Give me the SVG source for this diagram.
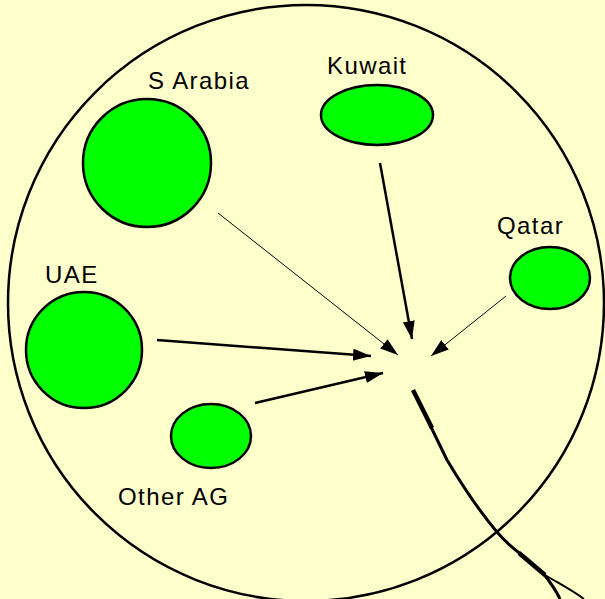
<svg xmlns="http://www.w3.org/2000/svg" width="605" height="599" viewBox="0 0 605 599">
<style>
.bg{fill:#FFFFCC}
.node{fill:#00FF00;stroke:#000;stroke-width:2.5}
.lbl{font-family:"Liberation Sans",Arial,sans-serif;font-size:24px;letter-spacing:1.4px;fill:#000}
.arr{stroke:#000;fill:none;marker-end:url(#ah)}
</style>
<defs>
<marker id="ah" markerUnits="userSpaceOnUse" markerWidth="20" markerHeight="14" refX="18" refY="6" orient="auto">
<path d="M0,0 L18,6 L0,12 z" fill="#000"/>
</marker>
</defs>
<rect class="bg" x="0" y="0" width="605" height="599"/>
<circle cx="306" cy="303" r="298" fill="none" stroke="#000" stroke-width="2.5"/>
<g id="sarabia"><circle class="node" cx="147" cy="163" r="64"/><text class="lbl" x="148" y="89">S Arabia</text></g>
<g id="kuwait"><ellipse class="node" cx="377" cy="115" rx="56" ry="30"/><text class="lbl" x="327" y="74">Kuwait</text></g>
<g id="qatar"><ellipse class="node" cx="550" cy="278" rx="40" ry="31"/><text class="lbl" x="497" y="234">Qatar</text></g>
<g id="uae"><circle class="node" cx="84" cy="350" r="58"/><text class="lbl" x="45" y="283">UAE</text></g>
<g id="otherag"><ellipse class="node" cx="211" cy="436" rx="40" ry="32"/><text class="lbl" x="118" y="505" letter-spacing="1">Other AG</text></g>
<g id="connectors">
<line class="arr" x1="218" y1="213" x2="398" y2="355" stroke-width="1"/>
<line class="arr" x1="380" y1="163" x2="412" y2="339" stroke-width="2.5"/>
<line class="arr" x1="506" y1="296" x2="431" y2="356" stroke-width="1"/>
<line class="arr" x1="157" y1="340" x2="371" y2="356" stroke-width="2.5"/>
<line class="arr" x1="255" y1="403" x2="383" y2="373" stroke-width="2.5"/>
<path d="M413,390 L432,428" stroke="#000" stroke-width="4.5" fill="none"/>
<path d="M430,425 L447,460 C465,490 480,512 497,532 C508,545 515,550 522,555 L543,573 C550,582 556,590 560,599" stroke="#000" stroke-width="3" fill="none"/>
<path d="M519,553 L545,575" stroke="#000" stroke-width="4.5" fill="none"/>
<path d="M545,575 C560,584 572,590 584,599" stroke="#000" stroke-width="2" fill="none"/>
</g>
</svg>
